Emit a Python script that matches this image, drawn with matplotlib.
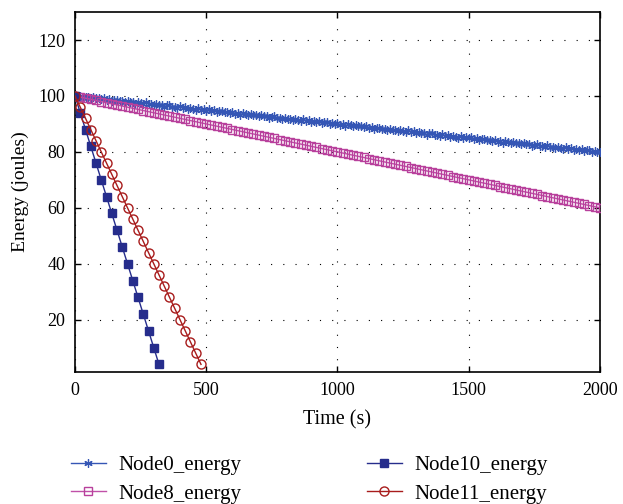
import numpy as np
import matplotlib
matplotlib.use("Agg")
import matplotlib.pyplot as plt

plt.rcParams["font.family"] = ["Liberation Serif", "DejaVu Serif"]

# sampling times (s)
time_node0 = np.arange(0, 2001, 10)
time_node8 = np.arange(0, 2001, 20)
time_node10 = np.arange(0, 321, 20)
time_node11 = np.arange(0, 481, 20)

node0_energy = [
    100.3, 99.7, 99.9, 99.3, 99.8, 99.5, 99.1, 99.7, 99.1, 99.3,
    98.8, 99.2, 98.7, 98.9, 98.2, 98.6, 98.7, 98.1, 98.2, 97.8,
    98.3, 97.7, 97.9, 97.3, 97.8, 97.5, 97.1, 97.7, 97.1, 97.3,
    96.8, 97.2, 96.7, 96.9, 96.2, 96.6, 96.7, 96.1, 96.2, 95.8,
    96.3, 95.7, 95.9, 95.3, 95.8, 95.5, 95.1, 95.7, 95.1, 95.3,
    94.8, 95.2, 94.7, 94.9, 94.2, 94.6, 94.7, 94.1, 94.2, 93.8,
    94.3, 93.7, 93.9, 93.3, 93.8, 93.5, 93.1, 93.7, 93.1, 93.3,
    92.8, 93.2, 92.7, 92.9, 92.2, 92.6, 92.7, 92.1, 92.2, 91.8,
    92.3, 91.7, 91.9, 91.3, 91.8, 91.5, 91.1, 91.7, 91.1, 91.3,
    90.8, 91.2, 90.7, 90.9, 90.2, 90.6, 90.7, 90.1, 90.2, 89.8,
    90.3, 89.7, 89.9, 89.3, 89.8, 89.5, 89.1, 89.7, 89.1, 89.3,
    88.8, 89.2, 88.7, 88.9, 88.2, 88.6, 88.7, 88.1, 88.2, 87.8,
    88.3, 87.7, 87.9, 87.3, 87.8, 87.5, 87.1, 87.7, 87.1, 87.3,
    86.8, 87.2, 86.7, 86.9, 86.2, 86.6, 86.7, 86.1, 86.2, 85.8,
    86.3, 85.7, 85.9, 85.3, 85.8, 85.5, 85.1, 85.7, 85.1, 85.3,
    84.8, 85.2, 84.7, 84.9, 84.2, 84.6, 84.7, 84.1, 84.2, 83.8,
    84.3, 83.7, 83.9, 83.3, 83.8, 83.5, 83.1, 83.7, 83.1, 83.3,
    82.8, 83.2, 82.7, 82.9, 82.2, 82.6, 82.7, 82.1, 82.2, 81.8,
    82.3, 81.7, 81.9, 81.3, 81.8, 81.5, 81.1, 81.7, 81.1, 81.3,
    80.8, 81.2, 80.7, 80.9, 80.2, 80.6, 80.7, 80.1, 80.2, 79.8,
    80.1,
]

node8_energy = [
    100.0, 99.6, 99.2, 98.8, 98.4, 98.0, 97.6, 97.2, 96.8, 96.4,
    96.0, 95.6, 95.2, 94.8, 94.4, 94.0, 93.6, 93.2, 92.8, 92.4,
    92.0, 91.6, 91.2, 90.8, 90.4, 90.0, 89.6, 89.2, 88.8, 88.4,
    88.0, 87.6, 87.2, 86.8, 86.4, 86.0, 85.6, 85.2, 84.8, 84.4,
    84.0, 83.6, 83.2, 82.8, 82.4, 82.0, 81.6, 81.2, 80.8, 80.4,
    80.0, 79.6, 79.2, 78.8, 78.4, 78.0, 77.6, 77.2, 76.8, 76.4,
    76.0, 75.6, 75.2, 74.8, 74.4, 74.0, 73.6, 73.2, 72.8, 72.4,
    72.0, 71.6, 71.2, 70.8, 70.4, 70.0, 69.6, 69.2, 68.8, 68.4,
    68.0, 67.6, 67.2, 66.8, 66.4, 66.0, 65.6, 65.2, 64.8, 64.4,
    64.0, 63.6, 63.2, 62.8, 62.4, 62.0, 61.6, 61.2, 60.8, 60.4,
    60.0,
]

node10_energy = [100, 94, 88, 82, 76, 70, 64, 58, 52, 46, 40, 34, 28, 22, 16, 10, 4]

node11_energy = [100, 96, 92, 88, 84, 80, 76, 72, 68, 64, 60, 56, 52, 48, 44,
                 40, 36, 32, 28, 24, 20, 16, 12, 8, 4]

fig = plt.figure(figsize=(6.23, 5.04), dpi=100)
ax = fig.add_axes([0.1204, 0.262, 0.8426, 0.714])

h0, = ax.plot(time_node0, node0_energy, color="#3556b5", lw=1.0,
              marker=(6, 2, 0), ms=6, mew=0.9, label="Node0_energy", zorder=3)
h8, = ax.plot(time_node8, node8_energy, color="#c050a8", lw=1.0,
              marker="s", ms=5.5, mfc="none", mec="#b8409c", mew=1.0,
              label="Node8_energy", zorder=3)
h10, = ax.plot(time_node10, node10_energy, color="#262d8c", lw=1.0,
               marker="s", ms=6, mfc="#262d8c", mec="#262d8c",
               label="Node10_energy", zorder=4)
h11, = ax.plot(time_node11, node11_energy, color="#a81c1c", lw=1.0,
               marker="o", ms=6.5, mfc="none", mec="#a81c1c", mew=1.0,
               label="Node11_energy", zorder=4)

ax.set_xlim(0, 2000)
ax.set_ylim(1.3, 130)
ax.set_xticks([0, 500, 1000, 1500, 2000])
ax.set_yticks([20, 40, 60, 80, 100, 120])
ax.tick_params(direction="in", top=True, right=True, length=4, width=1,
               labelsize=13, pad=7)
ax.grid(True, color="black", linestyle=(0, (1, 10)), linewidth=0.8)
for s in ax.spines.values():
    s.set_linewidth(1.2)

ax.set_xlabel("Time (s)", fontsize=14.5, labelpad=8)
ax.set_ylabel("Energy (joules)", fontsize=14, labelpad=7)

fig.legend(handles=[h0, h8, h10, h11], loc="lower left",
           bbox_to_anchor=(0.1, -0.016), borderaxespad=0.0, ncol=2,
           frameon=False, fontsize=15, columnspacing=6.0, handlelength=1.7,
           handletextpad=0.6, labelspacing=0.42)

fig.savefig("out.png", dpi=100)
